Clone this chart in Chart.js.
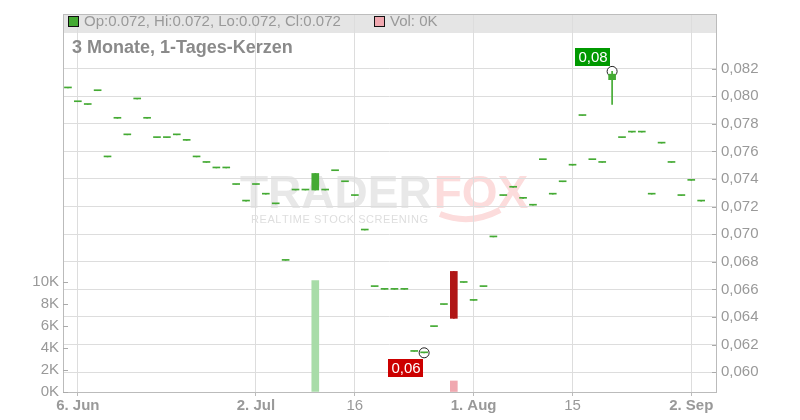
<!DOCTYPE html>
<html>
<head>
<meta charset="utf-8">
<script src="https://cdn.jsdelivr.net/npm/chart.js@4.4.1/dist/chart.umd.min.js"></script>
<style>
html,body{margin:0;padding:0;background:#fff;}
#wrap{width:800px;height:420px;position:relative;}
</style>
</head>
<body>
<div id="wrap"><canvas id="c" width="800" height="420"></canvas></div>
<script>
// ---- data ----
const dates = [
  '2024-06-05','2024-06-06','2024-06-07','2024-06-10','2024-06-11','2024-06-12','2024-06-13','2024-06-14',
  '2024-06-17','2024-06-18','2024-06-19','2024-06-20','2024-06-21','2024-06-24','2024-06-25','2024-06-26',
  '2024-06-27','2024-06-28','2024-07-01','2024-07-02','2024-07-03','2024-07-04','2024-07-05','2024-07-08',
  '2024-07-09','2024-07-10','2024-07-11','2024-07-12','2024-07-15','2024-07-16','2024-07-17','2024-07-18',
  '2024-07-19','2024-07-22','2024-07-23','2024-07-24','2024-07-25','2024-07-26','2024-07-29','2024-07-30',
  '2024-07-31','2024-08-01','2024-08-02','2024-08-05','2024-08-06','2024-08-07','2024-08-08','2024-08-09',
  '2024-08-12','2024-08-13','2024-08-14','2024-08-15','2024-08-16','2024-08-19','2024-08-20','2024-08-21',
  '2024-08-22','2024-08-23','2024-08-26','2024-08-27','2024-08-28','2024-08-29','2024-08-30','2024-09-02',
  '2024-09-03'
];
const opens = [
  0.0806,0.0796,0.0794,0.0804,0.0756,0.0784,0.0772,0.0798,0.0784,0.0770,0.0770,0.0772,0.0768,0.0756,0.0752,0.0748,
  0.0748,0.0736,0.0724,0.0736,0.0729,0.0722,0.0681,0.0732,0.0732,0.0732,0.0732,0.0746,0.0738,0.0728,0.0703,0.0662,
  0.0660,0.0660,0.0660,0.0615,0.0614,0.0633,0.0649,0.0673,0.0665,0.0652,0.0662,0.0698,0.0728,0.0734,0.0726,0.0721,
  0.0754,0.0729,0.0738,0.0750,0.0786,0.0754,0.0752,0.0812,0.0770,0.0774,0.0774,0.0729,0.0766,0.0752,0.0728,0.0739,
  0.0724
];
const highs = [
  0.0806,0.0796,0.0794,0.0804,0.0756,0.0784,0.0772,0.0798,0.0784,0.0770,0.0770,0.0772,0.0768,0.0756,0.0752,0.0748,
  0.0748,0.0736,0.0724,0.0736,0.0729,0.0722,0.0681,0.0732,0.0732,0.0744,0.0732,0.0746,0.0738,0.0728,0.0703,0.0662,
  0.0660,0.0660,0.0660,0.0615,0.0614,0.0633,0.0649,0.0673,0.0665,0.0652,0.0662,0.0698,0.0728,0.0734,0.0726,0.0721,
  0.0754,0.0729,0.0738,0.0750,0.0786,0.0754,0.0752,0.0818,0.0770,0.0774,0.0774,0.0729,0.0766,0.0752,0.0728,0.0739,
  0.0724
];
const lows = [
  0.0806,0.0796,0.0794,0.0804,0.0756,0.0784,0.0772,0.0798,0.0784,0.0770,0.0770,0.0772,0.0768,0.0756,0.0752,0.0748,
  0.0748,0.0736,0.0724,0.0736,0.0729,0.0722,0.0681,0.0732,0.0732,0.0732,0.0732,0.0746,0.0738,0.0728,0.0703,0.0662,
  0.0660,0.0660,0.0660,0.0615,0.0614,0.0633,0.0649,0.0639,0.0665,0.0652,0.0662,0.0698,0.0728,0.0734,0.0726,0.0721,
  0.0754,0.0729,0.0738,0.0750,0.0786,0.0754,0.0752,0.0794,0.0770,0.0774,0.0774,0.0729,0.0766,0.0752,0.0728,0.0739,
  0.0724
];
const closes = [
  0.0806,0.0796,0.0794,0.0804,0.0756,0.0784,0.0772,0.0798,0.0784,0.0770,0.0770,0.0772,0.0768,0.0756,0.0752,0.0748,
  0.0748,0.0736,0.0724,0.0736,0.0729,0.0722,0.0681,0.0732,0.0732,0.0744,0.0732,0.0746,0.0738,0.0728,0.0703,0.0662,
  0.0660,0.0660,0.0660,0.0615,0.0614,0.0633,0.0649,0.0639,0.0665,0.0652,0.0662,0.0698,0.0728,0.0734,0.0726,0.0721,
  0.0754,0.0729,0.0738,0.0750,0.0786,0.0754,0.0752,0.0816,0.0770,0.0774,0.0774,0.0729,0.0766,0.0752,0.0728,0.0739,
  0.0724
];
const volumes = [
  0,0,0,0,0,0,0,0,0,0,0,0,0,0,0,0,
  0,0,0,0,0,0,0,0,0,10100,0,0,0,0,0,0,
  0,0,0,0,0,0,0,1000,0,0,0,0,0,0,0,0,
  0,0,0,0,0,0,0,0,0,0,0,0,0,0,0,0,
  0
];
const tickDates  = ['2024-06-06','2024-07-02','2024-07-16','2024-08-01','2024-08-15','2024-09-02'];
const tickLabels = ['6. Jun','2. Jul','16','1. Aug','15','2. Sep'];
const priceTicks = [0.060,0.062,0.064,0.066,0.068,0.070,0.072,0.074,0.076,0.078,0.080,0.082];
const volTicks   = [0,2000,4000,6000,8000,10000];
const chartTitle = '3 Monate, 1-Tages-Kerzen';

// ---- styling ----
const FONT = '"Liberation Sans", Arial, Helvetica, sans-serif';
const UP = '#44aa33', DOWN = '#b01616';
const UP_VOL = '#a8dca8', DOWN_VOL = '#f0a8b0';
const isUp = i => closes[i] >= opens[i];

const bodies = dates.map((d, i) => ({x: i, y: [opens[i], closes[i]]}));
const wicks  = dates.map((d, i) => ({x: i, y: [lows[i], highs[i]]}));
const vols   = dates.map((d, i) => ({x: i, y: volumes[i] > 0 ? volumes[i] : null}));

const fmtPrice = (v, n) => v.toFixed(n).replace('.', ',');

const decor = {
  id: 'decor',
  beforeDraw(chart) {
    const {ctx, chartArea: a} = chart;
    ctx.save();
    // header band
    ctx.fillStyle = '#e5e5e5';
    ctx.fillRect(a.left, a.top, a.right - a.left, 19);
    // watermark
    ctx.textBaseline = 'alphabetic';
    ctx.textAlign = 'left';
    ctx.font = 'bold 46px ' + FONT;
    ctx.fillStyle = '#e8e8e8';
    ctx.fillText('TRADER', 240, 208);
    const w = ctx.measureText('TRADER').width;
    ctx.fillStyle = '#fcdcdc';
    ctx.fillText('FOX', 240 + w + 2, 208);
    // tail swoosh
    ctx.strokeStyle = '#fcdcdc';
    ctx.lineWidth = 6;
    ctx.beginPath();
    ctx.moveTo(440, 214);
    ctx.quadraticCurveTo(470, 226, 500, 210);
    ctx.stroke();
    // tagline
    ctx.font = '11px ' + FONT;
    ctx.fillStyle = '#dedede';
    const tag = 'REALTIME STOCK SCREENING';
    const chars = tag.split('');
    const base = chars.reduce((s, c) => s + ctx.measureText(c).width, 0);
    const gap = (177 - base) / (chars.length - 1);
    let x = 251;
    chars.forEach(c => { ctx.fillText(c, x, 223); x += ctx.measureText(c).width + gap; });
    ctx.restore();
  },
  beforeDatasetsDraw(chart) {
    const {ctx, scales} = chart;
    const maxH = Math.max(...highs), minL = Math.min(...lows);
    const iMax = highs.indexOf(maxH), iMin = lows.indexOf(minL);
    ctx.save();
    ctx.lineWidth = 1;
    ctx.strokeStyle = '#222';
    ctx.fillStyle = '#fff';
    [[iMax, maxH], [iMin, minL]].forEach(([i, v]) => {
      const cx = scales.x.getPixelForValue(i), cy = scales.y.getPixelForValue(v);
      ctx.beginPath();
      ctx.arc(cx, cy, 5, 0, Math.PI * 2);
      ctx.fill();
      ctx.stroke();
    });
    ctx.restore();
  },
  afterDraw(chart) {
    const {ctx, chartArea: a, scales} = chart;
    ctx.save();
    // top border
    ctx.strokeStyle = '#bdbdbd';
    ctx.lineWidth = 1;
    ctx.beginPath();
    ctx.moveTo(a.left, a.top + 0.5);
    ctx.lineTo(a.right, a.top + 0.5);
    ctx.stroke();
    // inner tick marks
    ctx.strokeStyle = '#aaaaaa';
    ctx.beginPath();
    volTicks.forEach(v => {
      const y = Math.round(scales.v.getPixelForValue(v)) + 0.5;
      ctx.moveTo(a.left, y); ctx.lineTo(a.left + 5, y);
    });
    priceTicks.forEach(v => {
      const y = Math.round(scales.y.getPixelForValue(v)) + 0.5;
      ctx.moveTo(a.right - 4, y); ctx.lineTo(a.right, y);
    });
    ctx.stroke();

    // header legend
    const last = dates.length - 1;
    ctx.textBaseline = 'middle';
    ctx.textAlign = 'left';
    ctx.fillStyle = isUp(last) ? UP : DOWN;
    ctx.fillRect(68.5, 16.5, 10, 10);
    ctx.strokeStyle = '#111';
    ctx.strokeRect(68.5, 16.5, 10, 10);
    ctx.font = '15px ' + FONT;
    ctx.fillStyle = '#999';
    ctx.fillText('Op:' + opens[last].toFixed(3) + ', Hi:' + highs[last].toFixed(3) +
      ', Lo:' + lows[last].toFixed(3) + ', Cl:' + closes[last].toFixed(3), 84, 22);
    ctx.fillStyle = DOWN_VOL;
    ctx.fillRect(374.5, 16.5, 10, 10);
    ctx.strokeRect(374.5, 16.5, 10, 10);
    ctx.fillStyle = '#999';
    ctx.fillText('Vol: ' + Math.round(volumes[last] / 1000) + 'K', 390, 22);

    // title
    ctx.font = 'bold 18px ' + FONT;
    ctx.fillStyle = '#8a8a8a';
    ctx.fillText(chartTitle, 72, 48);

    // hi / lo labels
    const maxH = Math.max(...highs), minL = Math.min(...lows);
    const iMax = highs.indexOf(maxH), iMin = lows.indexOf(minL);
    ctx.font = '15px ' + FONT;
    const drawLabel = (i, v, bg, above) => {
      const cx = scales.x.getPixelForValue(i), cy = scales.y.getPixelForValue(v);
      const t = fmtPrice(v, 2);
      const tw = ctx.measureText(t).width + 6;
      const right = cx - (above ? 2 : 1);
      const top = above ? cy - 5 - 18 : cy + 6;
      ctx.fillStyle = bg;
      ctx.fillRect(Math.round(right - tw), Math.round(top), Math.round(tw), 18);
      ctx.fillStyle = '#fff';
      ctx.textAlign = 'center';
      ctx.fillText(t, Math.round(right - tw / 2), Math.round(top) + 9.5);
    };
    drawLabel(iMax, maxH, '#009900', true);
    drawLabel(iMin, minL, '#cc0000', false);
    ctx.restore();
  }
};

new Chart(document.getElementById('c'), {
  type: 'bar',
  data: {
    datasets: [
      {
        label: 'Kerzen', data: bodies, yAxisID: 'y', order: 0, grouped: false,
        barThickness: 7, minBarLength: 1, borderWidth: 0,
        backgroundColor: dates.map((d, i) => isUp(i) ? UP : DOWN)
      },
      {
        label: 'Dochte', data: wicks, yAxisID: 'y', order: 1, grouped: false,
        barThickness: 1, borderWidth: 0,
        backgroundColor: dates.map((d, i) => isUp(i) ? UP : DOWN)
      },
      {
        label: 'Vol', data: vols, yAxisID: 'v', order: 2, grouped: false,
        barThickness: 7, borderWidth: 0,
        backgroundColor: dates.map((d, i) => isUp(i) ? UP_VOL : DOWN_VOL)
      }
    ]
  },
  options: {
    responsive: false,
    animation: false,
    devicePixelRatio: 1,
    layout: {padding: {top: 11, left: 0, right: 0, bottom: 0}},
    plugins: {legend: {display: false}, tooltip: {enabled: false}, title: {display: false}},
    scales: {
      x: {
        type: 'linear', min: -0.5, max: dates.length + 0.5, offset: false,
        afterBuildTicks: s => { s.ticks = tickDates.map(d => ({value: dates.indexOf(d)})); },
        afterFit: s => { s.height = 28; },
        grid: {color: '#dddddd', offset: false, drawTicks: true, tickLength: 4, tickColor: '#bbbbbb'},
        border: {color: '#bbbbbb'},
        ticks: {
          autoSkip: false, maxRotation: 0, padding: 1, color: '#999999',
          callback: v => tickLabels[tickDates.indexOf(dates[v])] || '',
          font: ctx => ({family: FONT, size: 15,
            weight: (tickLabels[tickDates.indexOf(dates[ctx.tick ? ctx.tick.value : -1])] || '').includes('.') ? 'bold' : 'normal'})
        }
      },
      y: {
        type: 'linear', position: 'right', min: 0.05856, max: 0.08596,
        afterBuildTicks: s => { s.ticks = priceTicks.map(v => ({value: v})); },
        afterFit: s => { s.width = 84; },
        grid: {color: '#dddddd', drawTicks: false},
        border: {color: '#bbbbbb'},
        ticks: {padding: 5, color: '#999999', font: {family: FONT, size: 15},
          callback: v => fmtPrice(v, 3)}
      },
      v: {
        type: 'linear', position: 'left', min: 0, max: 34300,
        afterBuildTicks: s => { s.ticks = volTicks.map(v => ({value: v})); },
        afterFit: s => { s.width = 63; },
        grid: {drawOnChartArea: false, drawTicks: false},
        border: {color: '#bbbbbb'},
        ticks: {padding: 4, color: '#999999', font: {family: FONT, size: 15},
          callback: v => (v / 1000) + 'K'}
      }
    }
  },
  plugins: [decor]
});
</script>
</body>
</html>
